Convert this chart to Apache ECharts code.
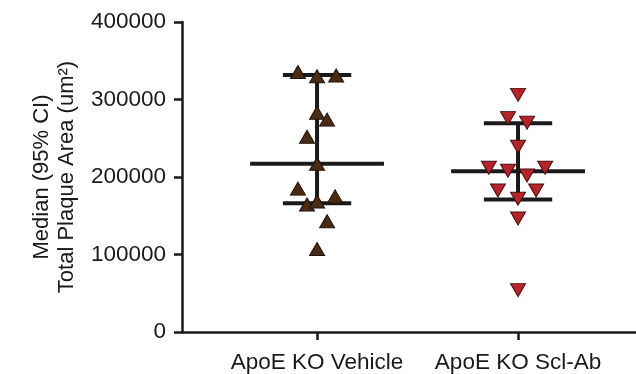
<!DOCTYPE html>
<html>
<head>
<meta charset="utf-8">
<script src="https://cdn.jsdelivr.net/npm/echarts@6/dist/echarts.min.js"></script>
<style>
  html, body { margin: 0; padding: 0; background: #fff; }
  #chart { width: 636px; height: 374px; }
</style>
</head>
<body>
<div id="chart"></div>
<script>
// groups along the x axis (1 = Vehicle, 2 = Scl-Ab)
var categories = ['ApoE KO Vehicle', 'ApoE KO Scl-Ab']

// individual animals, [x position with jitter, plaque area]
var vehiclePoints = [
  [0.905, 335500], [1.0, 330000], [1.095, 331000],
  [1.0, 283000], [1.05, 274000], [0.95, 252000],
  [1.0, 217000], [0.905, 185000], [1.09, 175000],
  [0.95, 164500], [1.0, 168500], [1.05, 143000],
  [1.0, 107000]
]
var sclAbPoints = [
  [2.0, 306000], [1.95, 276000], [2.045, 270000],
  [2.0, 239000], [1.855, 212000], [1.95, 208000],
  [2.135, 212000], [2.045, 202000], [1.9, 182500],
  [2.09, 182500], [2.0, 172000], [2.0, 146500],
  [2.0, 54000]
]

// [x, median, lower 95% CI, upper 95% CI]
var summary = [
  [1, 217000, 166000, 331500],
  [2, 207500, 171000, 269500]
]

var yTicks = [0, 100000, 200000, 300000, 400000]

var font = 'Liberation Sans, Arial, sans-serif'
var chart = echarts.init(document.getElementById('chart'))

function renderBars(params, api) {
  var x = api.value(0)
  var mid = api.coord([x, api.value(1)])
  var lo = api.coord([x, api.value(2)])
  var hi = api.coord([x, api.value(3)])
  var half = api.size([0.333, 0])[0]
  var cap = api.size([0.17, 0])[0]
  var style = { stroke: '#1a1a1a', lineWidth: 4 }
  return {
    type: 'group',
    children: [
      { type: 'line', shape: { x1: mid[0] - half, y1: mid[1], x2: mid[0] + half, y2: mid[1] }, style: style },
      { type: 'line', shape: { x1: hi[0] - cap, y1: hi[1], x2: hi[0] + cap, y2: hi[1] }, style: style },
      { type: 'line', shape: { x1: lo[0] - cap, y1: lo[1], x2: lo[0] + cap, y2: lo[1] }, style: style },
      { type: 'line', shape: { x1: hi[0], y1: hi[1], x2: lo[0], y2: lo[1] }, style: style }
    ]
  }
}

var option = {
  animation: false,
  backgroundColor: '#fff',
  grid: { left: 182, right: 0, top: 22, bottom: 41 },
  xAxis: {
    type: 'value',
    min: 0.328,
    max: 2.587,
    splitLine: { show: false },
    axisLine: { lineStyle: { color: '#1a1a1a', width: 2.5 } },
    axisTick: { show: true, customValues: [1, 2], length: 8, lineStyle: { color: '#1a1a1a', width: 2.5 } },
    axisLabel: {
      customValues: [1, 2],
      formatter: function (v) { return categories[Math.round(v) - 1] },
      color: '#1a1a1a', fontFamily: font, fontSize: 22.5, margin: 19
    }
  },
  yAxis: {
    type: 'value',
    min: 0,
    max: 400000,
    interval: 100000,
    name: 'Median (95% CI)\nTotal Plaque Area (um²)',
    nameLocation: 'middle',
    nameGap: 103,
    nameTextStyle: { color: '#1a1a1a', fontFamily: font, fontSize: 22, lineHeight: 25 },
    splitLine: { show: false },
    axisLine: { show: true, lineStyle: { color: '#1a1a1a', width: 2.5 } },
    axisTick: { show: true, length: 8, lineStyle: { color: '#1a1a1a', width: 2.5 } },
    axisLabel: {
      color: '#1a1a1a', fontFamily: font, fontSize: 22.5, margin: 16,
      formatter: function (v) { return yTicks.indexOf(v) >= 0 ? String(v) : '' }
    }
  },
  series: [
    {
      type: 'custom',
      renderItem: renderBars,
      data: summary,
      z: 1
    },
    {
      type: 'scatter',
      data: vehiclePoints,
      symbol: 'triangle',
      symbolSize: [15, 13],
      itemStyle: { color: '#4a2c14', borderColor: '#1e120a', borderWidth: 1, opacity: 1 },
      z: 3
    },
    {
      type: 'scatter',
      data: sclAbPoints,
      symbol: 'triangle',
      symbolRotate: 180,
      symbolSize: [15, 13],
      itemStyle: { color: '#b8232a', borderColor: '#4a0e10', borderWidth: 1, opacity: 1 },
      z: 3
    }
  ]
}

chart.setOption(option)
</script>
</body>
</html>
